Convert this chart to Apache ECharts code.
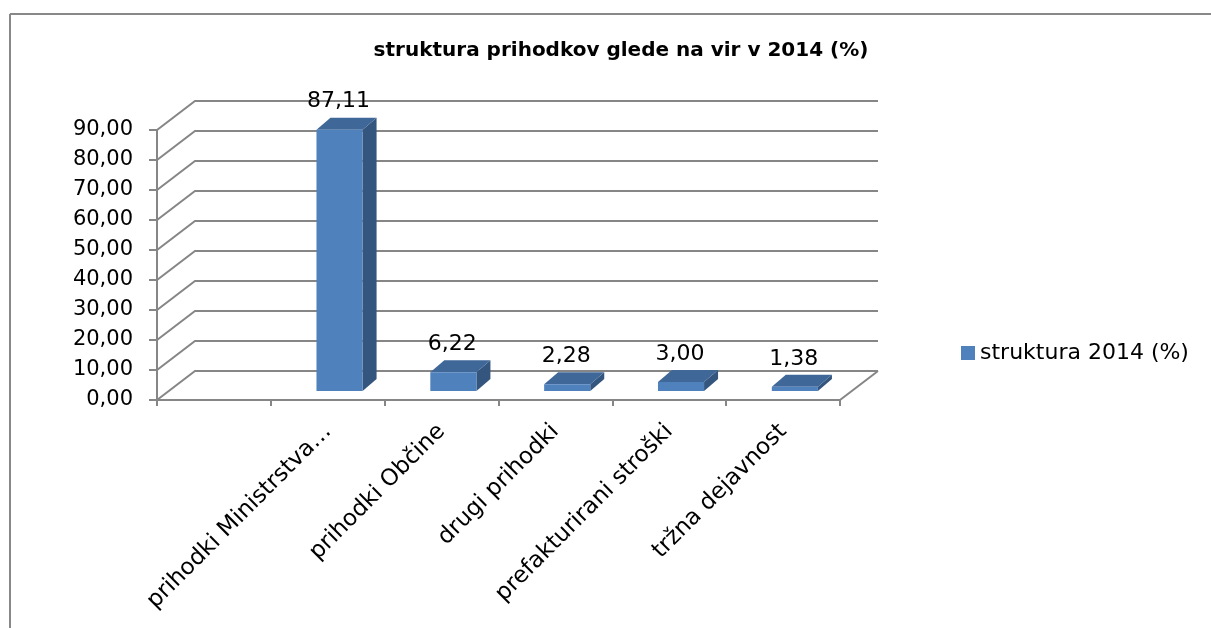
<!DOCTYPE html>
<html>
<head>
<meta charset="utf-8">
<title>struktura prihodkov glede na vir v 2014 (%)</title>
<script src="https://cdn.jsdelivr.net/npm/echarts@6/dist/echarts.min.js"></script>
<style>
html, body { margin: 0; padding: 0; background: #fff; overflow: hidden; }
#grafica { width: 1211px; height: 628px; }
</style>
</head>
<body>
<div id="grafica"></div>
<script>
// podatki
var kategorije = ['', 'prihodki Ministrstva\u2026', 'prihodki Ob\u010dine', 'drugi prihodki', 'prefakturirani stro\u0161ki', 'tr\u017ena dejavnost'];
var struktura2014 = [null, 87.11, 6.22, 2.28, 3.00, 1.38];
var yTicks = [0, 10, 20, 30, 40, 50, 60, 70, 80, 90];

var imeSerije = 'struktura 2014 (%)';
var FONT = 'DejaVu Sans';
var SIVA = '#868686';
// zamik zadnje stene (3D globina)
var DX = 38, DY = 29;

function vejica(v) {
    return Number(v).toFixed(2).replace('.', ',');
}

// zadnja stena, mreza in tla
function risiSteno(params, api) {
    var cs = params.coordSys;
    var v = api.value(0);
    var y = api.coord([0, v])[1];
    var xl = cs.x, xr = cs.x + cs.width;
    var children = [{
        type: 'polyline',
        shape: {points: [[xl, y], [xl + DX, y - DY], [xr + DX, y - DY]]},
        style: {stroke: SIVA, lineWidth: 2, fill: null}
    }];
    if (v === 0) {
        children.push({
            type: 'line',
            shape: {x1: xr, y1: y, x2: xr + DX, y2: y - DY},
            style: {stroke: SIVA, lineWidth: 2}
        });
    }
    return {type: 'group', children: children};
}

// 3D stolpci
function risiStolpec(params, api) {
    var i = api.value(0);
    var v = api.value(1);
    if (v == null || isNaN(v)) return;
    var vrh = api.coord([i, v]);
    var dno = api.coord([i, 0]);
    var pas = api.size([1, 0])[0];
    var w = pas * 0.405;
    var fx = DX * 0.31, fy = DY * 0.31;
    var gx = 14, gy = 12;
    var x0 = vrh[0] - w / 2 + fx, x1 = x0 + w;
    var yt = vrh[1] - fy, yb = dno[1] - fy;
    return {
        type: 'group',
        children: [
            {
                type: 'polygon',
                shape: {points: [[x1, yt], [x1 + gx, yt - gy], [x1 + gx, yb - gy], [x1, yb]]},
                style: {fill: '#34557E'}
            },
            {
                type: 'polygon',
                shape: {points: [[x0, yt], [x0 + gx, yt - gy], [x1 + gx, yt - gy], [x1, yt]]},
                style: {fill: '#3F6798'}
            },
            {
                type: 'rect',
                shape: {x: x0, y: yt, width: w, height: yb - yt},
                style: {fill: '#4F81BD'}
            },
            {
                type: 'text',
                x: (x0 + x1) / 2 - 1,
                y: yt - gy - 16,
                style: {
                    text: vejica(v),
                    fontFamily: FONT,
                    fontSize: 22,
                    fill: '#000',
                    align: 'center',
                    verticalAlign: 'middle'
                }
            }
        ]
    };
}

var grafica = document.getElementById('grafica');
var myChart = echarts.init(grafica, null, {renderer: 'canvas'});

var option = {
    backgroundColor: '#fff',
    animation: false,
    title: {
        text: 'struktura prihodkov glede na vir v 2014 (%)',
        left: 616,
        top: 36,
        textAlign: 'center',
        textStyle: {fontFamily: FONT, fontSize: 20, fontWeight: 'bold', color: '#000'}
    },
    legend: {
        data: [imeSerije],
        left: 956,
        top: 337,
        icon: 'rect',
        itemWidth: 14,
        itemHeight: 14,
        textStyle: {fontFamily: FONT, fontSize: 22, color: '#000'}
    },
    graphic: [
        {
            type: 'line',
            shape: {x1: 10, y1: 14, x2: 1230, y2: 14},
            style: {stroke: '#888', lineWidth: 2},
            silent: true
        },
        {
            type: 'line',
            shape: {x1: 10, y1: 14, x2: 10, y2: 650},
            style: {stroke: '#888', lineWidth: 2},
            silent: true
        }
    ],
    grid: {
        left: 157,
        top: 130,
        right: 371,
        bottom: 228,
        containLabel: false,
        outerBoundsMode: 'none'
    },
    xAxis: {
        type: 'category',
        data: kategorije,
        axisLine: {show: true, lineStyle: {color: SIVA, width: 2}},
        axisTick: {show: true, length: 6, interval: 0, lineStyle: {color: SIVA, width: 2}},
        axisLabel: {
            interval: 0,
            rotate: 45,
            margin: 28,
            fontFamily: FONT,
            fontSize: 23,
            color: '#000'
        },
        splitLine: {show: false}
    },
    yAxis: {
        type: 'value',
        min: 0,
        max: 90,
        interval: 10,
        axisLine: {show: true, lineStyle: {color: SIVA, width: 2}},
        axisTick: {show: true, length: 8, lineStyle: {color: SIVA, width: 2}},
        axisLabel: {
            margin: 24,
            fontFamily: FONT,
            fontSize: 21,
            color: '#000',
            formatter: vejica
        },
        splitLine: {show: false}
    },
    series: [
        {
            name: 'stena',
            type: 'custom',
            renderItem: risiSteno,
            data: yTicks.map(function (t) { return [t]; }),
            encode: {y: 0},
            silent: true,
            z: 1
        },
        {
            name: imeSerije,
            type: 'custom',
            renderItem: risiStolpec,
            itemStyle: {color: '#4F81BD'},
            data: struktura2014.map(function (v, i) { return [i, v]; }),
            encode: {x: 0, y: 1},
            z: 3
        }
    ]
};
myChart.setOption(option);
window.onresize = function () {
    myChart.resize();
};
</script>
</body>
</html>
